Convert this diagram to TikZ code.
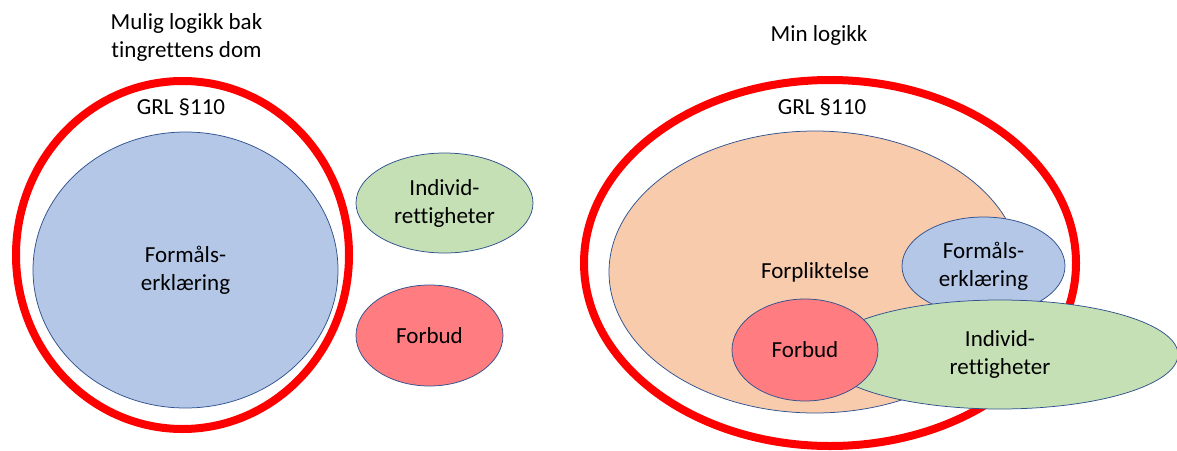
\documentclass[tikz,border=0pt]{standalone}
\usepackage{fontspec}
\setmainfont[Ligatures=NoCommon]{Carlito}
\usetikzlibrary{shapes.geometric}
\definecolor{ringred}{HTML}{FF0000}
\definecolor{edgeblue}{HTML}{2F528F}
\definecolor{formaal}{HTML}{B4C7E7}
\definecolor{individ}{HTML}{C5E0B4}
\definecolor{forbud}{HTML}{FF7C80}
\definecolor{forplikt}{HTML}{F8CBAD}
\begin{document}
\begin{tikzpicture}[x=1pt, y=-1pt, font=\fontsize{23}{28}\selectfont,
    ring/.style={ellipse, draw=ringred, line width=8pt, inner sep=0pt},
    blob/.style={ellipse, draw=edgeblue, line width=0.75pt, inner sep=0pt, align=center}]
        \useasboundingbox (0,0) rectangle (1177,450);

        % Left
        \node [align=center] (titleL) at (186.5,37.5) {Mulig logikk bak\\tingrettens dom};
        \node [ring, minimum width=333, minimum height=348] (grlL) at (182.5,255) {};
        \node (grlLtxt) at (181,107) {GRL §110};
        \node [blob, fill=formaal, minimum width=305, minimum height=276] (formaalL) at (185.5,270) {Formåls-\\erklæring};
        \node [blob, fill=individ, minimum width=177, minimum height=100] (individL) at (444.5,203) {Individ-\\rettigheter};
        \node [blob, fill=forbud, minimum width=147, minimum height=101] (forbudL) at (429.5,335.5) {Forbud};

        % Right
        \node (titleR) at (819,35) {Min logikk};
        \node [ring, minimum width=492, minimum height=366] (grlR) at (830,263) {};
        \node (grlRtxt) at (822,107) {GRL §110};
        \node [blob, fill=forplikt, minimum width=412, minimum height=282] (forpliktR) at (815,272) {Forpliktelse};
        \node [blob, fill=formaal, minimum width=163, minimum height=98] (formaalR) at (983.5,266) {Formåls-\\erklæring};
        \node [blob, fill=individ, minimum width=356, minimum height=109] (individR) at (1000,354.5) {Individ-\\rettigheter};
        \node [blob, fill=forbud, minimum width=146, minimum height=102] (forbudR) at (805,350) {Forbud};

\end{tikzpicture}
\end{document}
